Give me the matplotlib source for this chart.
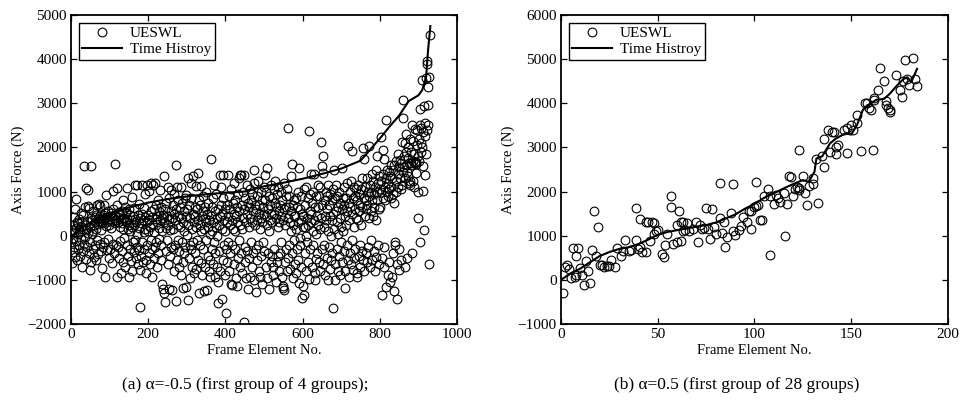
import matplotlib
matplotlib.use("Agg")
import matplotlib.pyplot as plt
import numpy as np

plt.rcParams['font.family'] = ['Liberation Serif', 'DejaVu Serif']

# ---------------- Left panel data (alpha = -0.5) ----------------
left_y = [
    -150, -622, 120, -380, 250, -50, 420, -250, 80, 600, -480, 180, 834, -120, 320, -560, 40, 280, -300, 150,
    -220, 380, 90, -450, 520, -80, 210, -712, 300, -350, 150, 470, -180, 1585, 660, -40, 250, 1070, -520, 120,
    340, -260, 1035, 60, 680, -400, 630, -773, 200, -150, 1585, 410, -600, 30, 350, -300, 560, 100, -480, 250,
    420, -200, 310, -560, 150, 480, 700, -90, 380, 260, -420, 720, 330, -180, 450, 680, 120, -340, 400, -735,
    290, -260, 470, 350, 700, -150, 380, 520, -940, 220, 932, 430, -320, 310, 560, -80, 360, -500, 250, 440,
    380, -300, 520, 180, 450, -620, 330, 600, -180, 1004, 400, -400, 280, 480, 1631, -220, 350, 700, 1080, -925,
    420, -250, 310, 530, -500, 200, 460, -120, 380, -849, 280, 560, -350, 150, 820, -600, 400, -60, 350, 650,
    -700, 300, 520, -200, 1084, 380, -450, 150, 600, -925, 240, -300, 480, 100, -580, 350, -810, 876, 200, -150,
    450, -380, 250, 620, -100, 380, 1160, -500, 300, 50, 1155, -250, 460, -650, 180, 720, -320, -773, 400, -1622,
    280, -450, 500, 1155, -150, 350, -600, 80, 620, -300, 420, 150, 955, -550, -850, 300, 1155, -200, 480, 100,
    -400, 1008, 350, -650, 200, 560, -100, 1200, 420, -300, -925, 250, 1160, 600, -500, 80, 1200, -250, 380, 700,
    -150, 450, -700, 300, 820, -400, 180, 550, -80, 1046, 350, -550, 650, -200, 400, 100, -1091, 480, -1198, 1344,
    -1289, 300, -1500, 600, -350, 180, 750, -100, 450, 1100, -650, 250, 850, -1205, 380, -450, 120, 560, -250, 1027,
    -1228, 400, -300, 700, 150, -800, 500, 950, -200, 350, 1608, -1470, 600, -550, 1100, 250, -100, 800, -700, 450,
    -350, 650, 200, -900, 1100, 400, -150, 750, -1190, 300, -600, 550, 100, -400, 850, -250, 932, -1167, 450, 20,
    600, -1455, 250, 1300, -500, 700, -200, 400, -960, 850, 1198, -300, 150, -700, 500, 1350, -150, 300, -850, 650,
    -400, 450, 200, 1120, -750, 600, -100, 1420, 350, -550, 800, -1300, 250, -200, 700, 100, 1120, -620, 450, -900,
    550, -300, 900, 150, -1250, 400, -700, 650, -100, 300, 1000, -1228, 500, -450, 200, 750, -800, 350, 50, -550,
    -925, 450, 1736, -300, 650, 100, -650, 850, 300, -150, 1140, -925, 550, -400, 200, 950, -700, 400, 0, -1050,
    600, -1516, 250, -350, 1380, 450, -800, 700, 1100, -1440, 150, 500, -550, 850, 1380, -200, 350, -900, 600, 100,
    -300, -1758, 700, 300, -600, 1380, 450, -150, 900, -800, 250, 600, -400, 1050, -1100, 350, -1114, -200, 750, 150,
    -650, 500, 1200, -300, 800, 100, -950, 450, 650, -1137, 300, -500, 950, -100, 550, 1306, -700, 1380, 250, 1382,
    -400, 700, 150, -850, 1000, 400, 1380, -1948, 600, -250, 850, -600, 300, -963, 500, 1150, -350, 750, -1200, 200,
    650, -500, -925, 400, 1050, -150, 800, -700, 300, 950, -400, 550, 1200, 1480, -1000, 250, 700, -300, -1266, 600,
    -550, 900, 350, -200, 1250, 500, -800, 700, 150, -925, 1000, 400, -450, 800, -1100, 300, 650, -150, 1100, 500,
    -350, 800, 1382, -700, 450, 1000, -950, 250, 1533, 600, -400, 900, 100, -1200, 700, 350, -600, 1150, 500, -455,
    850, 300, -900, -700, 1050, 500, -300, 750, 1250, -1050, 400, 650, -606, 950, 200, -450, 1100, 550, -800, 300,
    700, -400, 1000, 450, -150, -925, 800, 350, -1150, -1190, -1230, 600, 1200, -600, 250, 900, -300, 650, -810, 1050,
    2439, 400, -500, 650, 900, -200, 300, -750, 550, 1344, 100, 1631, -400, 700, -960, 250, 800, -100, 450, -650,
    450, 850, -850, 150, 650, -300, 1000, 300, -550, 1533, -1060, 600, -50, -200, 900, 350, -700, -1417, 500, 200,
    -1137, 450, 1050, -1342, 200, -400, 700, 0, -800, 1100, 400, -150, 850, 250, -600, 2363, -985, 550, 950, -300,
    300, 1400, 500, -700, 750, 100, -200, 1000, 1400, 350, -850, 650, -1000, 50, 900, -530, 450, -400, 1150, 250,
    650, -600, 900, 150, 1100, -800, 400, 2114, -300, 1585, 700, -650, 1812, 1420, 200, -200, 800, 450, -900, 1000,
    350, -500, 900, 600, -1000, 100, 1150, -250, 700, 450, -750, 950, 0, -550, 800, 350, -400, 1050, -1630, 500,
    1495, 150, -650, 850, -1000, 550, 1150, -300, 300, 900, -800, 650, 50, -450, 1000, 400, -887, 750, 200, -150,
    600, -600, 1533, 850, 100, -350, 700, 1100, -1190, 450, -800, 850, 250, -200, 1200, 550, -550, 2040, -925, 750,
    350, 1000, -400, 650, 1250, -650, 1910, 500, -100, -788, 850, 200, 1100, -500, 600, 900, -300, 400, 1050, -850,
    -925, 800, 350, 1150, -450, 550, 950, -200, 700, -712, 1050, 250, 1300, -350, 650, -561, 1985, 850, 1737, -800,
    450, 1100, -400, 800, 600, 1300, -606, 700, 1000, -250, 400, 2023, 900, -700, 1150, 550, -100, 1000, 1400, -546,
    800, 450, 1250, -350, 950, 650, -800, 1100, 1500, 350, -485, 1000, 800, 1797, -200, 1200, 600, 1350, -650, 1050,
    650, 1250, 1000, 2235, -500, -1342, 1948, 850, 1400, -700, 1737, -250, 1100, 800, 1300, 2627, -1167, 1000, 1500, -900,
    1200, 900, -600, 1450, 1050, 1350, -1038, 850, 1600, 1100, -925, 1300, 950, -400, 1500, 750, 1608, -1243, -150, -200,
    1250, 1000, 1700, -650, -1440, 1400, 1100, 1850, 1550, -300, -788, 1300, 1721, 1050, -546, 1650, 2114, 1150, 3080, 1450,
    2665, 1812, 1550, 2100, 1300, -700, 1900, 1600, 2300, 1450, -508, 1750, 2000, 1350, 1200, 1650, 1250, 2200, 1150, 1650,
    1900, 1600, 2500, -400, 1700, 1250, 2150, 1850, 1100, 2416, 1640, 1660, 1630, 1420, 1680, 2400, 2060, 1797, 1000, 400,
    2200, 1700, 2870, -150, 2500, 1900, 2100, 2450, 3533, 2000, 1570, 2350, 1004, 2945, 136, 1380, 2550, 2250, 1850, 3570,
    2400, 3900, 3950, 2967, 2500, 3367, -644, 3594, 4550,
]
left_x = list(range(1, len(left_y) + 1))

left_line_x = [0, 25, 50, 75, 100, 150, 200, 250, 300, 350, 400, 450, 500, 550, 600, 650,
               700, 750, 775, 800, 825, 850, 875, 900, 910, 920, 925, 931]
left_line_y = [-50, 170, 300, 430, 500, 640, 750, 830, 890, 940, 975, 1000, 1120, 1200, 1290, 1400,
               1520, 1700, 1950, 2200, 2470, 2720, 3050, 3180, 3300, 3600, 4200, 4750]

# ---------------- Right panel data (alpha = 0.5) ----------------
right_x = [1, 2, 3, 4, 5, 6, 7, 8, 8, 9, 10, 11, 12, 13, 14, 15, 16, 17, 18, 19,
           20, 21, 22, 24, 25, 26, 28, 29, 31, 32, 33, 35, 36, 39, 39, 40, 41, 41, 42, 44,
           44, 45, 46, 47, 48, 48, 49, 50, 52, 53, 54, 55, 57, 57, 58, 60, 60, 61, 62, 62,
           63, 63, 64, 65, 66, 68, 70, 71, 72, 73, 74, 75, 76, 77, 78, 79, 80, 82, 82, 83,
           84, 85, 86, 88, 89, 89, 90, 92, 93, 94, 96, 97, 98, 98, 100, 101, 101, 102, 103, 104,
           105, 107, 108, 108, 110, 111, 112, 113, 115, 116, 117, 118, 119, 120, 121, 122, 123, 123, 123, 125,
           126, 127, 128, 130, 130, 132, 133, 135, 136, 136, 138, 139, 140, 141, 142, 142, 143, 146, 148, 148,
           150, 151, 153, 153, 155, 157, 158, 159, 160, 161, 162, 162, 164, 165, 167, 168, 168, 169, 170, 170,
           173, 175, 176, 177, 178, 179, 180, 182, 183, 184]
right_y = [-300, 300, 340, 250, 35, 715, 70, 110, 540, 715, 265, 110, -115, 420, 190, -80, 680, 1560, 530, 1205,
           340, 340, 300, 315, 315, 450, 300, 715, 540, 655, 905, 660, 675, 905, 1620, 690, 1375, 735, 640, 640,
           1300, 1300, 870, 1300, 1050, 1280, 1100, 1120, 585, 510, 780, 1030, 1660, 1900, 810, 1240, 860, 1560, 880, 1300,
           1300, 1100, 1120, 1280, 1100, 1150, 1300, 860, 1240, 1150, 1180, 1630, 1150, 930, 1600, 1200, 1050, 2190, 1395, 1060,
           1300, 750, 980, 1525, 1100, 2175, 1020, 1130, 1230, 1435, 1320, 1550, 1550, 1150, 1650, 2210, 1680, 1700, 1360, 1360,
           1900, 2055, 1900, 555, 1720, 1925, 1850, 1775, 1965, 995, 1720, 2355, 2340, 1900, 2055, 2100, 2075, 2025, 2945, 2355,
           1965, 1700, 2120, 2180, 2300, 2735, 1735, 2800, 3190, 2550, 3385, 2900, 3350, 3350, 3000, 2850, 3050, 3400, 2885, 3450,
           3500, 3400, 3740, 3550, 2930, 4005, 4010, 3890, 3850, 2945, 4110, 4080, 4305, 4800, 4495, 4050, 3950, 3900, 3850, 3800,
           4645, 4300, 4150, 4495, 4985, 4540, 4420, 5025, 4540, 4395]

right_line_x = [0, 5, 10, 15, 20, 25, 30, 35, 40, 45, 50, 55, 60, 65, 70, 75, 80, 85, 90, 95,
                100, 105, 110, 115, 120, 125, 128, 131, 132, 135, 139, 142, 147, 150, 153, 156, 160,
                163, 167, 170, 174, 177, 179, 181, 184]
right_line_y = [0, 150, 255, 400, 540, 630, 700, 740, 810, 910, 1020, 1085, 1125, 1165, 1205, 1240, 1300, 1390, 1480, 1610,
                1720, 1860, 1960, 2070, 2170, 2260, 2220, 2450, 2750, 2800, 3090, 3200, 3320, 3290, 3510, 3850, 4000,
                4080, 4100, 4220, 4420, 4550, 4590, 4480, 4780]

fig = plt.figure(figsize=(9.62, 4.03), dpi=100)
axL = fig.add_axes([71/962, 1-324/403, (457-71)/962, (324-15)/403])
axR = fig.add_axes([561/962, 1-324/403, (948-561)/962, (324-15)/403])

def style(ax):
    for s in ax.spines.values():
        s.set_linewidth(1.3)
    ax.tick_params(direction='in', top=True, right=True, length=4, width=0.9,
                   labelsize=11, pad=3)

# Left
axL.plot(left_x, left_y, linestyle='none', marker='o', markersize=6.3,
         markerfacecolor='none', markeredgecolor='black', markeredgewidth=0.8, label='UESWL')
axL.plot(left_line_x, left_line_y, color='black', linewidth=1.5, label='Time Histroy')
axL.set_xlim(0, 1000)
axL.set_ylim(-2000, 5000)
axL.set_xticks(np.arange(0, 1001, 200))
axL.set_yticks(np.arange(-2000, 5001, 1000))
axL.set_xlabel('Frame Element No.', fontsize=10.5, labelpad=2)
axL.set_ylabel('Axis Force (N)', fontsize=10.5, labelpad=2)
style(axL)

# Right
axR.plot(right_x, right_y, linestyle='none', marker='o', markersize=6.3,
         markerfacecolor='none', markeredgecolor='black', markeredgewidth=0.8, label='UESWL')
axR.plot(right_line_x, right_line_y, color='black', linewidth=1.5, label='Time Histroy')
axR.set_xlim(0, 200)
axR.set_ylim(-1000, 6000)
axR.set_xticks(np.arange(0, 201, 50))
axR.set_yticks(np.arange(-1000, 6001, 1000))
axR.set_xlabel('Frame Element No.', fontsize=10.5, labelpad=2)
axR.set_ylabel('Axis Force (N)', fontsize=10.5, labelpad=2)
style(axR)

for ax in (axL, axR):
    leg = ax.legend(loc='upper left', fontsize=11, frameon=True, fancybox=False,
                    edgecolor='black', framealpha=1, handlelength=2.6,
                    borderaxespad=0.5, borderpad=0.25, labelspacing=0.15, handletextpad=0.5)
    leg.get_frame().set_linewidth(1.0)

fig.text(245/962, 1-385/403, '(a) α=-0.5 (first group of 4 groups);', fontsize=12.5,
         ha='center', va='center')
fig.text(737/962, 1-385/403, '(b) α=0.5 (first group of 28 groups)', fontsize=12.5,
         ha='center', va='center')

fig.savefig('out.png', dpi=100)
